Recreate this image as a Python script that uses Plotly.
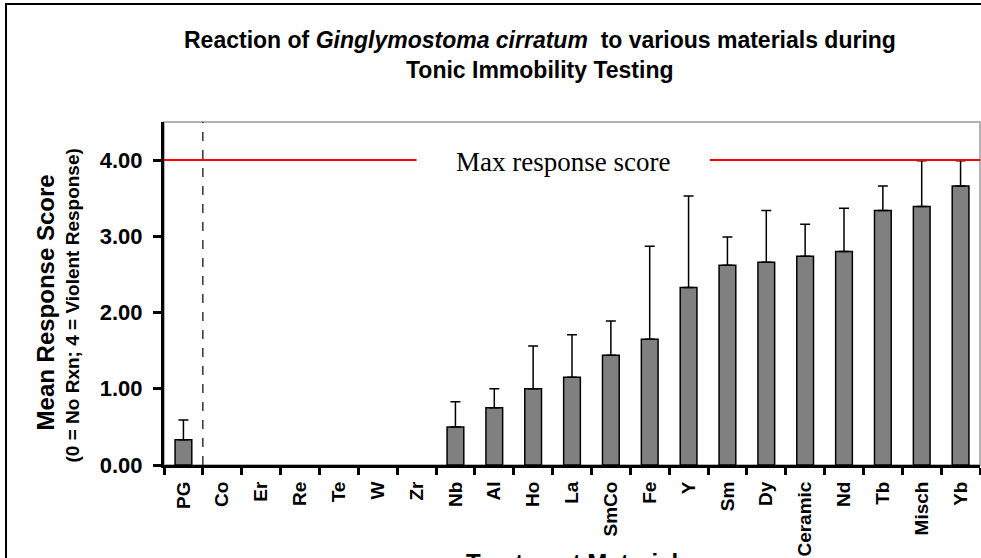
import plotly.graph_objects as go

# treatment materials, left to right
materials = ["PG", "Co", "Er", "Re", "Te", "W", "Zr", "Nb", "Al", "Ho", "La",
             "SmCo", "Fe", "Y", "Sm", "Dy", "Ceramic", "Nd", "Tb", "Misch", "Yb"]
# mean response score per material
mean_score = [0.33, 0, 0, 0, 0, 0, 0, 0.50, 0.75, 1.00, 1.15,
              1.44, 1.65, 2.33, 2.62, 2.66, 2.74, 2.80, 3.34, 3.39, 3.66]
# top of the (upper only) error bar
err_top = [0.59, 0, 0, 0, 0, 0, 0, 0.83, 1.00, 1.56, 1.71,
           1.89, 2.87, 3.53, 2.99, 3.34, 3.16, 3.37, 3.66, 3.99, 3.99]
max_score = 4.0
y_ticks = [0, 1, 2, 3, 4]

# zero scores draw no bar (no outline stub on the axis)
bar_y = [m if m > 0 else None for m in mean_score]
err_plus = [t - m if t > m else None for t, m in zip(err_top, mean_score)]
err_minus = [0] * len(mean_score)

FONT = "Liberation Sans, Arial, sans-serif"

fig = go.Figure()
fig.add_trace(go.Bar(
    x=materials,
    y=bar_y,
    marker=dict(color="#808080", line=dict(color="black", width=1.5)),
    error_y=dict(type="data", symmetric=False, array=err_plus,
                 arrayminus=err_minus, color="black", thickness=1.5, width=5),
    showlegend=False,
    hoverinfo="x+y"))

# plot area frame (grey top/right)
fig.add_shape(type="rect", xref="paper", yref="paper", x0=0, x1=1, y0=0, y1=1,
              line=dict(color="#999999", width=1.5), layer="below")
# outer chart frame
fig.add_shape(type="rect", xref="paper", yref="paper",
              x0=-0.1936, x1=1.5, y0=-0.6, y1=1.344,
              line=dict(color="black", width=2))
# control / treatment divider
fig.add_shape(type="line", xref="x", yref="paper", x0=0.5, x1=0.5, y0=0, y1=1,
              line=dict(color="black", width=1.2, dash="dash"))
# max response score line, broken around its label
fig.add_shape(type="line", xref="x", yref="y", x0=-0.5, x1=6.0,
              y0=max_score, y1=max_score, line=dict(color="red", width=2))
fig.add_shape(type="line", xref="x", yref="y", x0=13.55, x1=20.5,
              y0=max_score, y1=max_score, line=dict(color="red", width=2))
fig.add_annotation(x=9.77, y=max_score, xref="x", yref="y",
                   xanchor="center", yanchor="middle", yshift=-2,
                   text="Max response score", showarrow=False,
                   font=dict(family="Liberation Serif, Times New Roman, serif",
                             size=27, color="black"))

# title
fig.add_annotation(x=0.4608, y=1.239, xref="paper", yref="paper",
                   xanchor="center", yanchor="middle",
                   text="Reaction of <i>Ginglymostoma cirratum</i>  to various materials during",
                   showarrow=False, font=dict(family=FONT, size=23, color="black", weight="bold"))
fig.add_annotation(x=0.4608, y=1.152, xref="paper", yref="paper",
                   xanchor="center", yanchor="middle",
                   text="Tonic Immobility Testing",
                   showarrow=False, font=dict(family=FONT, size=23, color="black", weight="bold"))

# y axis titles
fig.add_annotation(x=-0.145, y=0.473, xref="paper", yref="paper",
                   xanchor="center", yanchor="middle",
                   text="Mean Response Score", textangle=-90, showarrow=False,
                   font=dict(family=FONT, size=24, color="black", weight="bold"))
fig.add_annotation(x=-0.112, y=0.464, xref="paper", yref="paper",
                   xanchor="center", yanchor="middle",
                   text="(0 = No Rxn; 4 = Violent Response)", textangle=-90, showarrow=False,
                   font=dict(family=FONT, size=19, color="black", weight="bold"))
# x axis title (runs off the bottom like the original)
fig.add_annotation(x=0.5, y=-0.238, xref="paper", yref="paper",
                   xanchor="center", yanchor="top",
                   text="Treatment Material", showarrow=False,
                   font=dict(family=FONT, size=24, color="black", weight="bold"))

fig.update_layout(
    width=981, height=558,
    margin=dict(l=164, r=1, t=122, b=93),
    paper_bgcolor="white", plot_bgcolor="white",
    bargap=0.57,
    font=dict(family=FONT, color="black"),
)
fig.update_xaxes(
    type="category", range=[-0.5, 20.5],
    showline=True, linecolor="black", linewidth=3,
    ticks="outside", tickson="boundaries", ticklen=7, tickwidth=2.5, tickcolor="black",
    tickangle=-90, tickfont=dict(family=FONT, size=19, weight="bold"),
    ticklabelstandoff=6,
    showgrid=False, zeroline=False,
)
fig.update_yaxes(
    range=[0, 4.5], tickvals=y_ticks, tickformat=".2f",
    showline=True, linecolor="black", linewidth=3,
    ticks="outside", ticklen=8, tickwidth=2.5, tickcolor="black",
    tickfont=dict(family=FONT, size=22, weight="bold"),
    ticklabelstandoff=6,
    showgrid=False, zeroline=False,
)

fig.write_html("out.html", config={"displayModeBar": False},
               post_script="document.body.style.margin='0';")
